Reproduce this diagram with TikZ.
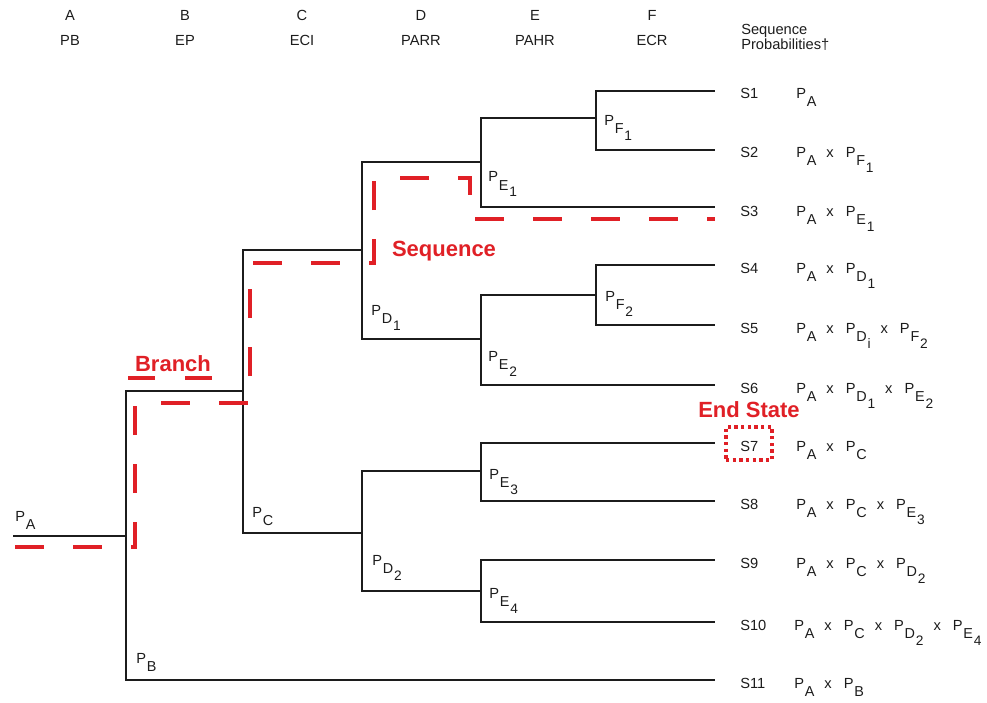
\documentclass[tikz,border=0pt]{standalone}
\usepackage{fontspec}
\setmainfont{Liberation Sans}
\definecolor{ink}{RGB}{28,28,28}
\definecolor{hlred}{RGB}{224,32,38}
% probability with one and two levels of subscript
\newcommand{\subfont}{\fontsize{10.8}{11}\selectfont}
\newcommand{\subsubfont}{\fontsize{10.3}{11}\selectfont}
\newcommand{\Ps}[1]{P\kern0.6pt\raisebox{-6pt}{\subfont #1}}
\newcommand{\Pss}[2]{P\kern0.6pt\raisebox{-6pt}{\subfont #1\kern0.6pt\raisebox{-5.25pt}{\subsubfont #2}}}
\newcommand{\tms}{\hspace{7.5pt}x\hspace{9pt}}
\begin{document}
\begin{tikzpicture}[x=0.75pt,y=-0.75pt,
  branchline/.style={line width=1.5pt, draw=ink, line join=miter},
  seqpath/.style={draw=hlred, line width=3pt, dash pattern=on 21.75pt off 21.75pt},
  hdr/.style={font=\fontsize{11}{13}\selectfont, text=ink, inner sep=0pt, anchor=base},
  lbl/.style={font=\fontsize{11}{13}\selectfont, text=ink, inner sep=0pt, anchor=base west},
  redlbl/.style={font=\fontsize{16.5}{19}\selectfont\bfseries, text=hlred, inner sep=0pt, anchor=base},
  endbox/.style={draw=hlred, line width=2.3pt, dash pattern=on 2.5pt off 2.5pt,
    minimum width=34.5pt, minimum height=24.75pt, inner sep=0pt}
]
\useasboundingbox (0,0) rectangle (987,702);

% column headings
\node[hdr] (hA) at (70,21) {A};   \node[hdr] (hA2) at (70,46) {PB};
\node[hdr] (hB) at (185,21) {B};  \node[hdr] (hB2) at (185,46) {EP};
\node[hdr] (hC) at (302,21) {C};  \node[hdr] (hC2) at (302,46) {ECI};
\node[hdr] (hD) at (421,21) {D};  \node[hdr] (hD2) at (421,46) {PARR};
\node[hdr] (hE) at (535,21) {E};  \node[hdr] (hE2) at (535,46) {PAHR};
\node[hdr] (hF) at (652,21) {F};  \node[hdr] (hF2) at (652,46) {ECR};
\node[lbl] (hS) at (741,35) {Sequence};
\node[lbl] (hS2) at (741,50) {Probabilities†};

% branch points of the event tree
\coordinate (pa)  at (13,536);
\coordinate (nB)  at (126,536);
\coordinate (nC)  at (243,391);
\coordinate (nD1) at (362,250);
\coordinate (nD2) at (362,533);
\coordinate (nE1) at (481,162);
\coordinate (nE2) at (481,339);
\coordinate (nE3) at (481,471);
\coordinate (nE4) at (481,591);
\coordinate (nF1) at (596,118);
\coordinate (nF2) at (596,295);
% end points of the sequences
\coordinate (s1)  at (715,91);
\coordinate (s2)  at (715,150);
\coordinate (s3)  at (715,207);
\coordinate (s4)  at (715,265);
\coordinate (s5)  at (715,325);
\coordinate (s6)  at (715,385);
\coordinate (s7)  at (715,443);
\coordinate (s8)  at (715,501);
\coordinate (s9)  at (715,560);
\coordinate (s10) at (715,622);
\coordinate (s11) at (715,680);

% tree branches
\draw[branchline] (pa) -- (nB);
\draw[branchline] (nB) |- (nC);   \draw[branchline] (nB) |- (s11);
\draw[branchline] (nC) |- (nD1);  \draw[branchline] (nC) |- (nD2);
\draw[branchline] (nD1) |- (nE1); \draw[branchline] (nD1) |- (nE2);
\draw[branchline] (nD2) |- (nE3); \draw[branchline] (nD2) |- (nE4);
\draw[branchline] (nE1) |- (nF1); \draw[branchline] (nE1) |- (s3);
\draw[branchline] (nE2) |- (nF2); \draw[branchline] (nE2) |- (s6);
\draw[branchline] (nE3) |- (s7);  \draw[branchline] (nE3) |- (s8);
\draw[branchline] (nE4) |- (s9);  \draw[branchline] (nE4) |- (s10);
\draw[branchline] (nF1) |- (s1);  \draw[branchline] (nF1) |- (s2);
\draw[branchline] (nF2) |- (s4);  \draw[branchline] (nF2) |- (s5);

% branch probabilities
\node[lbl] (pA)  at (15,521)  {\Ps{A}};
\node[lbl] (pB)  at (136,663) {\Ps{B}};
\node[lbl] (pC)  at (252,517) {\Ps{C}};
\node[lbl] (pD1) at (371,315) {\Pss{D}{1}};
\node[lbl] (pD2) at (372,565) {\Pss{D}{2}};
\node[lbl] (pE1) at (488,182) {\Pss{E}{1}};
\node[lbl] (pE2) at (488,361) {\Pss{E}{2}};
\node[lbl] (pE3) at (489,479) {\Pss{E}{3}};
\node[lbl] (pE4) at (489,598) {\Pss{E}{4}};
\node[lbl] (pF1) at (604,126) {\Pss{F}{1}};
\node[lbl] (pF2) at (605,301) {\Pss{F}{2}};

% sequence names and their probabilities
\node[lbl] (l1)  at (740,99)  {S1};
\node[lbl] (l2)  at (740,158) {S2};
\node[lbl] (l3)  at (740,216) {S3};
\node[lbl] (l4)  at (740,273) {S4};
\node[lbl] (l5)  at (740,333) {S5};
\node[lbl] (l6)  at (740,393) {S6};
\node[lbl] (l7)  at (740,451) {S7};
\node[lbl] (l8)  at (740,509) {S8};
\node[lbl] (l9)  at (740,568) {S9};
\node[lbl] (l10) at (740,630) {S10};
\node[lbl] (l11) at (740,688) {S11};

\node[lbl] (q1)  at (796,99)  {\Ps{A}};
\node[lbl] (q2)  at (796,158) {\Ps{A}\tms\Pss{F}{1}};
\node[lbl] (q3)  at (796,216) {\Ps{A}\tms\Pss{E}{1}};
\node[lbl] (q4)  at (796,273) {\Ps{A}\tms\Pss{D}{1}};
\node[lbl] (q5)  at (796,333) {\Ps{A}\tms\Pss{D}{i}\tms\Pss{F}{2}};
\node[lbl] (q6)  at (796,393) {\Ps{A}\tms\Pss{D}{1}\tms\Pss{E}{2}};
\node[lbl] (q7)  at (796,451) {\Ps{A}\tms\Ps{C}};
\node[lbl] (q8)  at (796,509) {\Ps{A}\tms\Ps{C}\tms\Pss{E}{3}};
\node[lbl] (q9)  at (796,568) {\Ps{A}\tms\Ps{C}\tms\Pss{D}{2}};
\node[lbl] (q10) at (794,630) {\Ps{A}\tms\Ps{C}\tms\Pss{D}{2}\tms\Pss{E}{4}};
\node[lbl] (q11) at (794,688) {\Ps{A}\tms\Ps{B}};

% highlighted sequence path
\coordinate (r0) at (15,547);
\coordinate (r1) at (135,547);
\coordinate (r2) at (135,403);
\coordinate (r3) at (250,403);
\coordinate (r4) at (250,263);
\coordinate (r5) at (374,263);
\coordinate (r6) at (374,178);
\coordinate (r7) at (470,178);
\coordinate (r8) at (470,219);
\coordinate (r9) at (715,219);
\draw[seqpath] (r0) -- (r1) -- (r2) -- (r3) -- (r4) -- (r5) -- (r6) -- (r7) -- (r8) -- (r9);

% callouts
\node[redlbl] (tBranch) at (173,371) {Branch};
\coordinate (u0) at (128,378);
\coordinate (u1) at (213,378);
\draw[draw=hlred, line width=3pt, dash pattern=on 20.25pt off 22.5pt] (u0) -- (u1);
\node[redlbl] (tSeq) at (444,256) {Sequence};
\node[redlbl] (tEnd) at (749,417) {End State};
\node[endbox] (box7) at (749,443.5) {};
\end{tikzpicture}
\end{document}
